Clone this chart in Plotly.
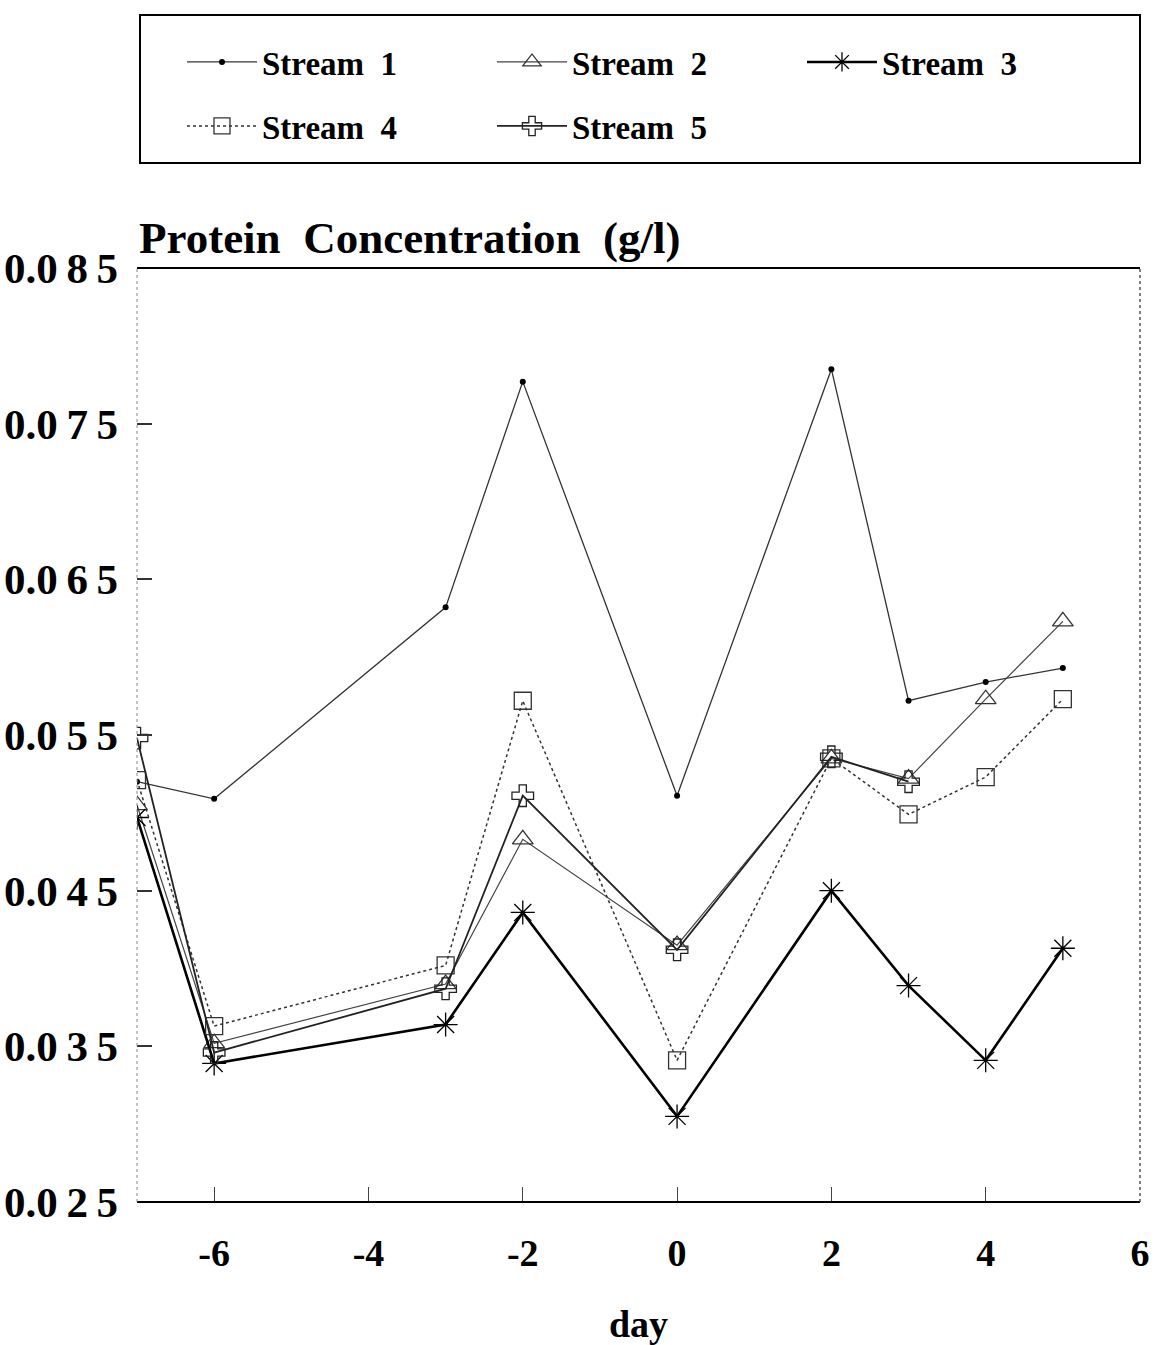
import plotly.graph_objects as go

days = [-7, -6, -3, -2, 0, 2, 3, 4, 5]
days5 = [-7, -6, -3, -2, 0, 2, 3]

stream1 = [0.0520, 0.0509, 0.0632, 0.0777, 0.0511, 0.0785, 0.0572, 0.0584, 0.0593]
stream2 = [0.0505, 0.0352, 0.0390, 0.0483, 0.0415, 0.0535, 0.0522, 0.0573, 0.0623]
stream3 = [0.0497, 0.0339, 0.0364, 0.0436, 0.0305, 0.0450, 0.0389, 0.0341, 0.0413]
stream4 = [0.0521, 0.0363, 0.0402, 0.0572, 0.0341, 0.0535, 0.0499, 0.0523, 0.0573]
stream5 = [0.0548, 0.0346, 0.0387, 0.0511, 0.0412, 0.0536, 0.0520]

names = ["Stream  1", "Stream  2", "Stream  3", "Stream  4", "Stream  5"]

yticks = [0.025, 0.035, 0.045, 0.055, 0.065, 0.075, 0.085]
ytick_text = ["0.0\u20092\u20095", "0.0\u20093\u20095", "0.0\u20094\u20095", "0.0\u20095\u20095",
              "0.0\u20096\u20095", "0.0\u20097\u20095", "0.0\u20098\u20095"]
xticks = [-6, -4, -2, 0, 2, 4, 6]
xtick_text = ["-6", "-4", "-2", "0", "2", "4", "6"]

FONT = "Liberation Serif"

fig = go.Figure()

fig.add_trace(go.Scatter(x=days, y=stream1, name=names[0], mode="lines+markers",
                         line=dict(color="#333333", width=1.3),
                         marker=dict(symbol="circle", size=6, color="black"),
                         legend="legend"))
fig.add_trace(go.Scatter(x=days, y=stream2, name=names[1], mode="lines+markers",
                         line=dict(color="#444444", width=1.2),
                         marker=dict(symbol="triangle-up-open", size=18, color="#333333",
                                     line=dict(width=1.3)),
                         legend="legend"))
fig.add_trace(go.Scatter(x=days, y=stream3, name=names[2], mode="lines+markers",
                         line=dict(color="black", width=2.6),
                         marker=dict(symbol="asterisk-open", size=20, color="black",
                                     line=dict(width=1.3)),
                         legend="legend"))
fig.add_trace(go.Scatter(x=days, y=stream4, name=names[3], mode="lines+markers",
                         line=dict(color="#333333", width=1.5, dash="dot"),
                         marker=dict(symbol="square-open", size=17, color="#333333",
                                     line=dict(width=1.3)),
                         legend="legend2"))
fig.add_trace(go.Scatter(x=days5, y=stream5, name=names[4], mode="lines+markers",
                         line=dict(color="#222222", width=1.8),
                         marker=dict(symbol="cross-open", size=18, color="#222222",
                                     line=dict(width=1.3)),
                         legend="legend2"))

L, R, T, B = 137, 21, 268, 143
W, H = 1161, 1345
pw = W - L - R
ph = H - T - B

def px(x):
    return (x - L) / pw

def py(y):
    return (H - B - y) / ph

legend_font = dict(family=FONT, size=33, color="black", weight="bold")
leg_common = dict(orientation="h", xanchor="left", yanchor="middle",
                  entrywidth=225, entrywidthmode="pixels", font=legend_font,
                  bgcolor="rgba(0,0,0,0)", itemwidth=70)

fig.update_layout(
    width=W, height=H,
    margin=dict(l=L, r=R, t=T, b=B, autoexpand=False),
    paper_bgcolor="white", plot_bgcolor="white",
    font=dict(family=FONT, color="black"),
    showlegend=True,
    legend=dict(x=px(182), y=py(62), **leg_common),
    legend2=dict(x=px(182), y=py(126), **leg_common),
    xaxis=dict(range=[-7, 6], tickvals=xticks, ticktext=xtick_text, ticks="inside", ticklen=15,
               tickwidth=1, tickcolor="#444444", showgrid=False, zeroline=False, showline=False,
               automargin=False,
               tickfont=dict(family=FONT, size=38, color="black", weight="bold"),
               ticklabelstandoff=25,
               title=dict(text="day", font=dict(family=FONT, size=38, color="black", weight="bold"),
                          standoff=40)),
    yaxis=dict(range=[0.025, 0.085], tickvals=yticks, ticktext=ytick_text, ticks="inside",
               ticklen=15, tickwidth=1.5, tickcolor="#333333", showgrid=False, zeroline=False,
               showline=False, automargin=False,
               tickfont=dict(family=FONT, size=43, color="black", weight="bold"),
               ticklabelstandoff=18),
    shapes=[
        # legend box
        dict(type="rect", xref="paper", yref="paper", x0=px(140), x1=px(1140), y0=py(163), y1=py(15),
             line=dict(color="black", width=2)),
        # frame
        dict(type="line", xref="paper", yref="paper", x0=0, x1=1, y0=1, y1=1,
             line=dict(color="black", width=2)),
        dict(type="line", xref="paper", yref="paper", x0=0, x1=1, y0=0, y1=0,
             line=dict(color="black", width=2)),
        dict(type="line", xref="paper", yref="paper", x0=0, x1=0, y0=0, y1=1,
             line=dict(color="#888888", width=1, dash="dot")),
        dict(type="line", xref="paper", yref="paper", x0=1, x1=1, y0=0, y1=1,
             line=dict(color="#555555", width=1.5, dash="dot")),
    ],
    annotations=[
        dict(text="Protein  Concentration  (g/l)", xref="paper", yref="paper",
             x=0, y=py(238), xanchor="left", yanchor="middle", showarrow=False,
             font=dict(family=FONT, size=45, color="black", weight="bold")),
    ],
)

fig.write_html("out.html")
